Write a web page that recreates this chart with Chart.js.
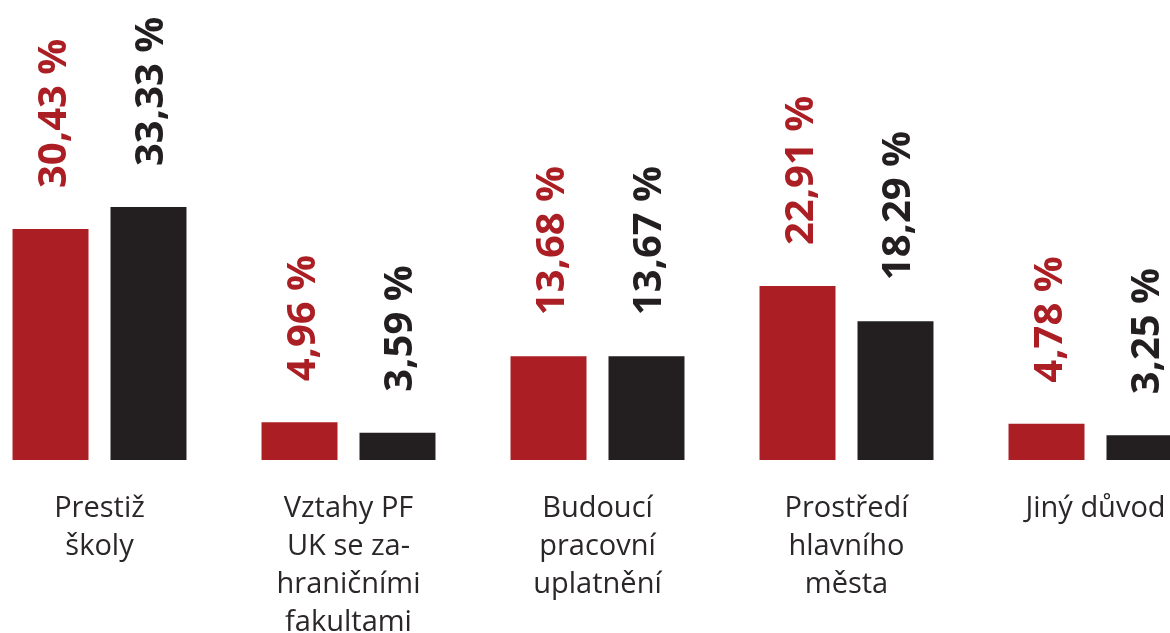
<!DOCTYPE html>
<html>
<head>
<meta charset="utf-8">
<script src="https://cdn.jsdelivr.net/npm/chart.js@4.4.1/dist/chart.umd.min.js"></script>
<style>
  html, body { margin: 0; padding: 0; background: #fff; overflow: hidden; }
  #wrap { position: relative; width: 1170px; height: 633px; overflow: hidden; }
  #chart { position: absolute; left: -25px; top: 0; }
</style>
</head>
<body>
<div id="wrap"><canvas id="chart" width="1245" height="633"></canvas></div>
<script>
// kategorie (víceřádkové popisky)
const categories = [
  ['Prestiž', 'školy'],
  ['Vztahy PF', 'UK se za-', 'hraničními', 'fakultami'],
  ['Budoucí', 'pracovní', 'uplatnění'],
  ['Prostředí', 'hlavního', 'města'],
  ['Jiný důvod']
];

// hodnoty v procentech
const redValues = [30.43, 4.96, 13.68, 22.91, 4.78];
const blackValues = [33.33, 3.59, 13.67, 18.29, 3.25];

const RED = '#ab1f24';
const BLACK = '#231f20';

// popisky hodnot nad sloupci, otočené o 90°
const valueLabels = {
  id: 'valueLabels',
  afterDatasetsDraw(chart) {
    const ctx = chart.ctx;
    ctx.save();
    ctx.font = 'bold 40px "Open Sans"';
    ctx.textAlign = 'left';
    ctx.textBaseline = 'alphabetic';
    chart.data.datasets.forEach((ds, i) => {
      const meta = chart.getDatasetMeta(i);
      meta.data.forEach((bar, j) => {
        const text = ds.data[j].toFixed(2).replace('.', ',') + ' %';
        ctx.save();
        ctx.translate(bar.x + 15, bar.y - 41);
        ctx.rotate(-Math.PI / 2);
        ctx.fillStyle = ds.backgroundColor;
        ctx.fillText(text, 0, 0);
        ctx.restore();
      });
    });
    ctx.restore();
  }
};

new Chart(document.getElementById('chart'), {
  type: 'bar',
  data: {
    labels: categories,
    datasets: [
      {
        label: 'A',
        data: redValues,
        backgroundColor: RED,
        categoryPercentage: 0.787,
        barPercentage: 0.7755
      },
      {
        label: 'B',
        data: blackValues,
        backgroundColor: BLACK,
        categoryPercentage: 0.787,
        barPercentage: 0.7755
      }
    ]
  },
  options: {
    responsive: false,
    animation: false,
    layout: { padding: 0 },
    plugins: {
      legend: { display: false },
      tooltip: { enabled: false }
    },
    scales: {
      x: {
        grid: { display: false, drawTicks: false },
        border: { display: false },
        ticks: {
          color: '#2b2728',
          font: { family: '"Open Sans"', size: 29, lineHeight: '38px' },
          padding: 30,
          maxRotation: 0,
          autoSkip: false
        },
        afterFit: s => { s.height = 173; }
      },
      y: {
        display: false,
        min: 0,
        max: 60.6
      }
    }
  },
  plugins: [valueLabels]
});
</script>
</body>
</html>
